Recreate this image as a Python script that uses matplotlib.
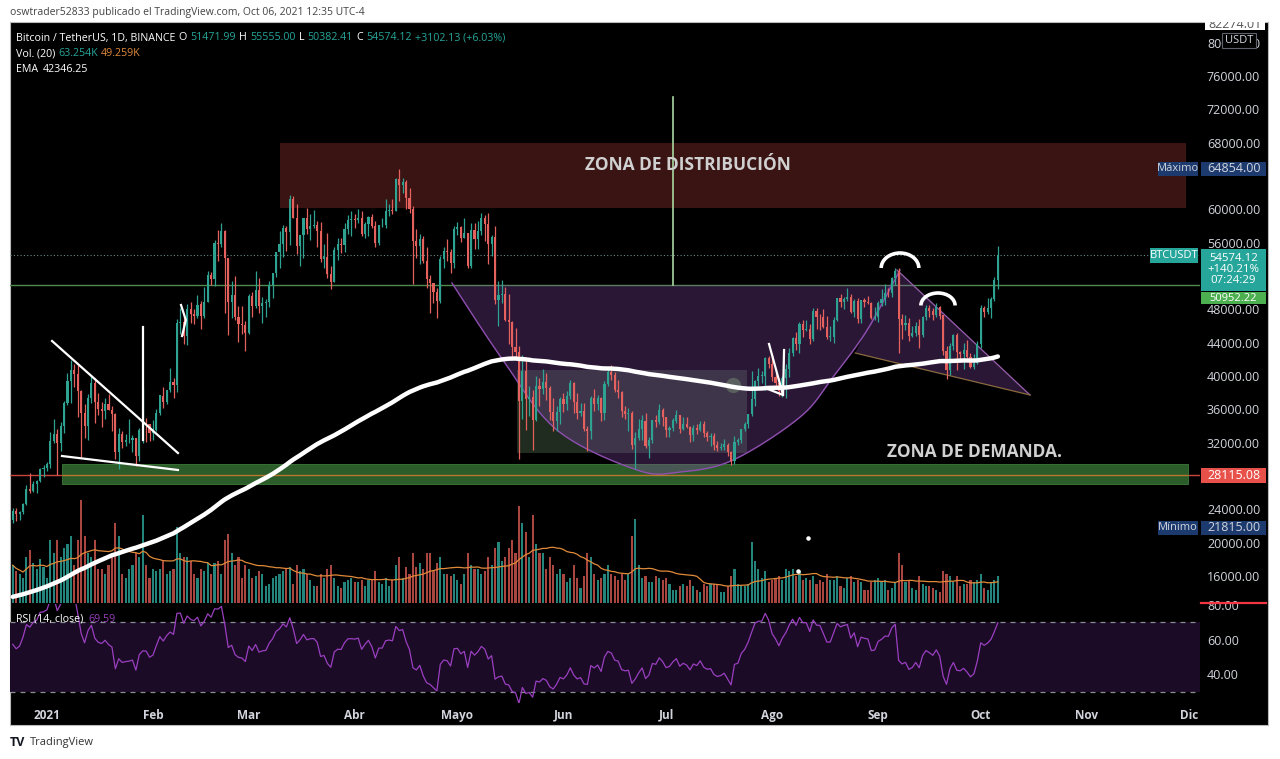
import numpy as np
import pandas as pd
import matplotlib
matplotlib.use('Agg')
import matplotlib.pyplot as plt
from matplotlib.patches import Rectangle, Polygon, Arc
from matplotlib.transforms import Bbox

plt.rcParams['font.family'] = ['Open Sans', 'DejaVu Sans']

# ---- data (BTCUSDT daily, Binance) ----
start_day = '2020-12-22'
first_open = 22720
closes = [
    23824, 23455, 23720, 24690, 26440, 26250, 27035, 27360, 28870, 28990,  # dic 2020
    29410, 32180, 33000, 31990, 33950, 36770, 39430, 40670, 40240, 38240,
    35540, 34010, 37370, 39150, 36830, 36030, 35820, 36630, 35890, 35470,
    30850, 33000, 32100, 32280, 32370, 32570, 30430, 33470, 34320, 34270, 33110,  # ene
    33520, 35510, 37660, 36930, 38290, 39250, 38900, 46400, 46530, 44850,
    48000, 47410, 47200, 48580, 47180, 48890, 52150, 51590, 55900, 55840,
    57410, 54200, 48890, 49680, 47070, 46280, 46110, 45140,  # feb
    49590, 48440, 50350, 48370, 48750, 48880, 50970, 52380, 54880, 55850,
    57810, 57230, 61190, 59000, 55600, 56900, 58910, 57650, 58030, 58100,
    57350, 54080, 54340, 52300, 51300, 55070, 55840, 55780, 57630, 58770, 58800,  # mar
    58730, 58970, 57060, 58200, 59130, 58040, 55950, 58080, 58090, 59780,
    59960, 59840, 63580, 62960, 63220, 61400, 60000, 56150, 55610, 56470,
    53800, 51700, 51190, 50100, 49060, 54030, 55030, 54860, 53560, 57700,  # abr
    57830, 56610, 57210, 53240, 57470, 56430, 57380, 58930, 58280, 55860,
    56700, 49150, 49720, 49880, 46760, 46430, 43540, 42900, 36970, 40600,
    37300, 37520, 34770, 38850, 38400, 39290, 38530, 35680, 34610, 35670, 37250,  # mayo
    36690, 37570, 39190, 36880, 35520, 35800, 33590, 33400, 37390, 36690,
    37340, 35550, 39020, 40520, 40140, 38350, 38090, 35820, 35480, 35600,
    31680, 32510, 33680, 34660, 31590, 32280, 34700, 34490, 35910, 35040,  # jun
    33570, 33800, 34660, 35290, 33690, 34220, 33860, 32880, 33810, 33520,
    34240, 33120, 32730, 32820, 31780, 31420, 31520, 31780, 30840, 29790,
    32140, 32290, 33640, 34260, 35400, 37270, 39460, 40000, 40020, 42220, 41460,  # jul
    39850, 39150, 38210, 39740, 40870, 42820, 44610, 43810, 46280, 45580,
    45590, 44430, 47830, 47100, 47040, 45930, 44690, 44710, 46760, 49340,
    48870, 49290, 49510, 47710, 48970, 46850, 49080, 48900, 48810, 46990, 47100,  # ago
    48810, 49250, 49940, 49920, 51760, 52660, 46860, 46070, 46370, 44840,
    45160, 46020, 44940, 47110, 48120, 47750, 47300, 48300, 47260, 43010,
    40690, 43580, 44880, 42840, 42700, 43160, 42230, 41030, 41520, 43820,  # sep
    48140, 47640, 48200, 49220, 51471.99, 54574.12,  # oct
]
highs = [
    24100, 24100, 23800, 24790, 26870, 28400, 27390, 27500, 29000, 29300,
    29680, 33300, 34780, 33600, 34500, 36940, 40360, 41950, 41380, 41350,
    38260, 36630, 37850, 40100, 39700, 37950, 36850, 37300, 37850, 36400,
    35600, 33800, 33450, 33070, 34880, 32950, 32600, 33780, 38530, 34900, 34290,
    34700, 35980, 37660, 38700, 38300, 40960, 39700, 46800, 48200, 47300,
    48680, 48880, 48050, 49700, 49000, 50660, 52600, 52500, 56300, 57500,
    58350, 57550, 54180, 51400, 52050, 48430, 48400, 46650,
    49790, 50100, 52640, 51770, 49470, 49200, 51450, 52400, 54900, 57390,
    58150, 58000, 61700, 61600, 60630, 56940, 58970, 60100, 59450, 59880,
    58600, 58420, 55840, 57200, 53230, 55450, 56600, 56560, 58400, 59370, 59800,
    59490, 60000, 59800, 58500, 59250, 59450, 58650, 58150, 58900, 61200,
    60650, 61200, 63770, 64854, 63800, 63520, 62500, 60400, 57600, 57000,
    56800, 55500, 52100, 51200, 50600, 54350, 55480, 56430, 55200, 57950,
    58450, 58000, 58980, 57200, 58350, 58380, 58650, 59500, 59300, 59600,
    56900, 58000, 51400, 51550, 50700, 49800, 46650, 45800, 43550, 42500,
    42250, 38850, 38300, 39950, 39800, 40850, 40400, 38850, 37300, 36400, 37500,
    37900, 38230, 39480, 39280, 37900, 36800, 36800, 34000, 37550, 38400,
    37680, 37450, 39400, 41000, 41300, 40500, 39550, 38200, 36450, 36150,
    35750, 33300, 34880, 35300, 35500, 32700, 34750, 35300, 36600, 36100,
    35050, 33950, 34950, 35950, 35300, 35100, 35050, 33950, 34100, 34250,
    34600, 34650, 33350, 33100, 33200, 32250, 31950, 32450, 31900, 31050,
    32850, 32600, 33650, 34500, 35400, 40550, 39550, 40900, 40650, 42300, 42400,
    42600, 40450, 39780, 39970, 41400, 43400, 44700, 45300, 46450, 46700,
    46750, 46200, 48100, 48150, 47400, 48000, 47150, 46000, 47100, 49380,
    49800, 49500, 50500, 49850, 49250, 49350, 49150, 49300, 49650, 48900, 48250,
    48950, 50400, 51000, 50550, 51900, 52920, 52950, 47380, 47350, 47000,
    45980, 46450, 46880, 47250, 48480, 48500, 48150, 48800, 48380, 47350,
    43650, 44000, 45000, 45100, 42950, 43950, 44350, 42800, 42600, 44150,
    48500, 48350, 49300, 49500, 51900, 55555,
]
lows = [
    22350, 22650, 22700, 23400, 24500, 25900, 26100, 25900, 27320, 27850,
    28630, 29000, 32000, 28130, 31000, 33200, 36550, 36800, 38700, 35100,
    30260, 32530, 32300, 36700, 34400, 35350, 33860, 34800, 35880, 33400,
    30070, 28850, 31400, 31650, 31900, 30830, 29240, 29800, 31900, 32050, 32200,
    32300, 33400, 35360, 36200, 36600, 38100, 37350, 38100, 45000, 43800,
    43700, 46400, 46200, 47000, 45600, 47000, 48900, 50900, 50800, 53800,
    55500, 47600, 44900, 47000, 46700, 44100, 45000, 43000,
    45000, 47100, 48100, 47500, 46300, 47100, 48280, 49300, 51900, 53000,
    54270, 55050, 55700, 58970, 54600, 53210, 54120, 57000, 56300, 57800,
    55450, 53650, 53000, 51700, 50400, 51250, 53950, 54700, 54900, 57000, 56850,
    57700, 58400, 56850, 56500, 56850, 57800, 55500, 55700, 57850, 57700,
    59200, 59400, 59800, 61000, 62000, 60000, 59600, 51000, 54200, 53400,
    53600, 50500, 47500, 48800, 47000, 48800, 53000, 53800, 52400, 53000,
    56950, 56050, 56500, 53000, 52900, 55200, 55250, 56900, 56200, 53400,
    54400, 48600, 46000, 48800, 46550, 43800, 42000, 42200, 30000, 34800,
    33500, 35200, 31100, 34550, 36400, 37800, 37150, 34700, 33400, 33400, 34200,
    35700, 35900, 37180, 35600, 34800, 35250, 33350, 31000, 32400, 35800,
    35950, 34600, 34750, 38750, 39500, 38100, 37400, 35130, 34800, 33350,
    31250, 28800, 32300, 32300, 31300, 30150, 32000, 33900, 34250, 34000,
    32700, 32700, 33350, 34300, 33150, 33550, 33750, 32100, 32200, 33000,
    33350, 32700, 32200, 31600, 31150, 31050, 31150, 31100, 30400, 29280,
    29480, 31700, 32000, 33400, 33800, 35200, 36400, 38800, 39200, 38300, 41000,
    39400, 38700, 37600, 37500, 37300, 39850, 42450, 43100, 42800, 44700,
    45350, 43800, 44250, 45600, 45500, 45700, 44400, 44200, 43950, 46600,
    48300, 48000, 49000, 47600, 47100, 46300, 46350, 48300, 48600, 46850, 46700,
    46500, 48350, 48550, 49450, 49500, 50950, 42800, 44400, 45500, 44200,
    44700, 44750, 43400, 44700, 46700, 47050, 46750, 47050, 46850, 42500,
    39600, 40100, 43100, 40700, 41650, 40800, 42100, 40900, 40800, 41400,
    43300, 47050, 47450, 46900, 49050, 50382.41,
]
volumes_k = [
    90, 75, 70, 60, 110, 125, 95, 80, 105, 85,
    60, 150, 120, 150, 110, 130, 140, 160, 90, 150, 245, 160, 120, 110, 150, 80,
    80, 70, 90, 120, 190, 160, 70, 60, 80, 90, 120, 110, 210, 90, 60,
    80, 75, 80, 100, 70, 75, 80, 180, 120, 110, 110, 100, 70, 60, 80, 75, 95, 70,
    95, 100, 70, 150, 165, 120, 90, 110, 60, 90,
    80, 60, 65, 75, 70, 40, 45, 60, 65, 70, 75, 80, 85, 45, 90, 75, 80, 70, 55,
    40, 40, 70, 60, 80, 90, 60, 40, 35, 50, 55, 60,
    50, 50, 55, 40, 55, 55, 75, 50, 45, 60, 40, 55, 90, 110, 60, 85, 70, 120, 85,
    95, 80, 120, 120, 75, 95, 110, 70, 70, 65, 70,
    55, 45, 70, 120, 90, 80, 80, 70, 75, 110, 90, 130, 145, 100, 110, 130, 150,
    120, 230, 190, 170, 110, 210, 140, 120, 120, 80, 110, 90, 70, 80,
    70, 50, 60, 90, 60, 35, 65, 120, 110, 70, 55, 60, 70, 90, 70, 65, 55, 70, 55,
    70, 160, 200, 90, 60, 65, 50, 50, 65, 60, 55,
    60, 45, 30, 30, 40, 45, 40, 55, 40, 30, 25, 45, 40, 45, 45, 45, 25, 25, 40,
    65, 80, 45, 40, 40, 45, 146, 100, 80, 60, 75, 50,
    55, 60, 65, 55, 80, 75, 80, 65, 75, 55, 60, 55, 65, 45, 55, 50, 70, 55, 55,
    65, 40, 35, 60, 65, 50, 55, 50, 30, 30, 50, 55,
    60, 50, 55, 30, 35, 50, 120, 90, 50, 55, 35, 30, 65, 45, 40, 40, 35, 30, 25,
    75, 70, 65, 50, 65, 40, 45, 45, 55, 50, 55,
    68, 35, 30, 50, 55, 63.254,
]
warmup_closes = [18780, 18320, 18560, 18260, 18830, 19170, 19280,
                 19440, 21380, 22850, 23120, 23850, 23480, 22720]
ema_seed = 13500
ema_len = 200

month_labels = ['2021', 'Feb', 'Mar', 'Abr', 'Mayo', 'Jun', 'Jul', 'Ago', 'Sep', 'Oct', 'Nov', 'Dic']
# 28000, 52000 and 64000 sit under the price tags on the right axis
price_ticks = [16000, 20000, 24000, 32000, 36000, 40000, 44000, 48000,
               56000, 60000, 68000, 72000, 76000, 80000]
rsi_ticks = [40, 60, 80]

support_level = 28115.08
resistance_level = 50952.22
max_price = 64854.00
min_price = 21815.00
change_pct = 140.21
countdown = '07:24:29'
vol_ma_label = '49.259K'
ema_label = '42346.25'
rsi_label = '69.59'
top_label = '82274.01'

# drawings (day offset from 1 Jan 2021, price)
dist_zone = (68, 333, 60160, 67960)
demand_zone = (4.4, 333.6, 27040, 29440)
wedge_top = [(1.5, 44200), (38.3, 30760)]
wedge_bottom = [(4.4, 30400), (38.3, 28720)]
flag_pole = [(28.1, 45880), (28.1, 32320)]
break_mark = [(39.2, 48520), (40.6, 46720), (39.5, 44800)]
aug_mark = [(211.1, 43840), (215.2, 37720), (210.0, 38560)]
aug_pole = [(215.5, 43120), (215.2, 37720)]
target_line = [(183, 73480), (183, 50920)]
cup_pts = [(118.4, 51160), (133.3, 41920), (149.1, 33520), (172.5, 28720), (185.1, 28480),
           (200.6, 29920), (220.2, 35080), (229.8, 39880), (239.8, 45520), (249.4, 52720)]
range_box = (137.4, 204.7, 30760, 40720)
triangle = [(248.5, 52720), (236.3, 42760), (287.4, 37720)]
caps = [(249.4, 52960, 11, 3600), (260.5, 48460, 10, 3000)]

# ---- derived series ----
dates = pd.date_range(start_day, periods=len(closes), freq='D')
day = (dates - pd.Timestamp('2021-01-01')).days.values.astype(float)
c = np.array(closes, float)
o = np.concatenate([[first_open], c[:-1]])
h = np.maximum(np.array(highs, float), np.maximum(o, c))
l = np.minimum(np.array(lows, float), np.minimum(o, c))
up = c >= o
vol = np.array(volumes_k, float)
vol_ma = pd.Series(vol).rolling(20, min_periods=1).mean().values

ema = [ema_seed]
for px in c[1:]:
    ema.append(ema[-1] + 2 / (ema_len + 1) * (px - ema[-1]))

allc = pd.Series(warmup_closes + list(closes), dtype=float)
d = allc.diff()
gain = d.clip(lower=0).ewm(alpha=1 / 14, adjust=False).mean()
loss = (-d.clip(upper=0)).ewm(alpha=1 / 14, adjust=False).mean()
rsi = (100 - 100 / (1 + gain / loss)).values[-len(closes):]

months = pd.date_range('2021-01-01', '2021-12-01', freq='MS')
month_days = (months - pd.Timestamp('2021-01-01')).days.values


def catmull(pts, n=24):
    p = np.array(pts, float)
    p = np.vstack([p[0], p, p[-1]])
    out = []
    t = np.linspace(0, 1, n, endpoint=False)[:, None]
    for i in range(1, len(p) - 2):
        p0, p1, p2, p3 = p[i - 1], p[i], p[i + 1], p[i + 2]
        out.append(0.5 * (2 * p1 + (-p0 + p2) * t + (2 * p0 - 5 * p1 + 4 * p2 - p3) * t ** 2
                          + (-p0 + 3 * p1 - 3 * p2 + p3) * t ** 3))
    out.append(p[-2][None])
    return np.vstack(out)


# ---- figure ----
W, H = 1280, 759
fig = plt.figure(figsize=(W / 100, H / 100), dpi=100)
fig.patch.set_facecolor('white')


def fx(px):
    return px / W


def fy(py):
    return 1 - py / H


fig.add_artist(Rectangle((fx(10), fy(725)), fx(1268) - fx(10), fy(22) - fy(725),
                         transform=fig.transFigure, fc='black', ec='#bbbbbb', lw=0.8, zorder=-5))

rect_price = [fx(10), fy(603), fx(1200) - fx(10), fy(22) - fy(603)]
ax_v = fig.add_axes(rect_price, zorder=0)
ax = fig.add_axes(rect_price, zorder=1)
ax_r = fig.add_axes([fx(10), fy(703), fx(1200) - fx(10), fy(604) - fy(703)], zorder=1)

xlim = (-10.8, 337.1)
for a in (ax, ax_v, ax_r):
    a.set_facecolor('none')
    a.set_xlim(*xlim)
    for s in a.spines.values():
        s.set_visible(False)

UP, DN = '#2fa392', '#e4615d'
cols = np.where(up, UP, DN)

# volume
ax_v.set_ylim(0, 1383)
ax_v.bar(day, vol, width=0.62, color=np.where(up, '#23857b', '#a8463f'))
ax_v.plot(day, vol_ma, color='#e08a3a', lw=0.9)
ax_v.set_axis_off()

# price panel
ax.set_ylim(12760, 82480)
ax.yaxis.tick_right()
ax.set_yticks(price_ticks)
ax.set_yticklabels([f'{t:.2f}' for t in price_ticks])
ax.tick_params(axis='y', length=0, pad=5, labelsize=9, labelcolor='#d1d4dc')
ax.tick_params(axis='x', length=0, labelbottom=False)

x0, x1, y0, y1 = dist_zone
ax.add_patch(Rectangle((x0, y0), x1 - x0, y1 - y0, fc='#3a1313', ec='none', zorder=1))
ax.text((x0 + x1) / 2 - 13, 65320, 'ZONA DE DISTRIBUCIÓN', color='#d0d0d0', fontsize=12.5,
        fontweight='bold', ha='center', va='center', zorder=7)

ax.hlines(support_level, xlim[0], xlim[1], color='#c9453c', lw=1, zorder=1)
x0, x1, y0, y1 = demand_zone
ax.add_patch(Rectangle((x0, y0), x1 - x0, y1 - y0, fc='#2d5c2b', ec='#3c7a38', lw=0.6, zorder=2))
ax.hlines(support_level, x0, x1, color='#b9782f', lw=1, zorder=2.5)
ax.text(271.3, 30900, 'ZONA DE DEMANDA.', color='#d0d0d0', fontsize=12.5,
        fontweight='bold', ha='center', va='center', zorder=7)

ax.axhline(resistance_level, color='#4f8a4f', lw=1, zorder=2)
ax.axhline(c[-1], color='#6a8a8a', lw=0.8, ls=(0, (1, 2)), zorder=2)

# cup & range box
x0, x1, y0, y1 = range_box
ax.add_patch(Rectangle((x0, y0), x1 - x0, y1 - y0, fc=(0.35, 0.5, 0.35), alpha=0.35, ec='none', zorder=1.5))
cup = catmull(cup_pts)
ax.fill_between(cup[:, 0], cup[:, 1], resistance_level, where=cup[:, 1] < resistance_level,
                interpolate=True, color=(0.55, 0.3, 0.7), alpha=0.3, lw=0, zorder=2)
ax.plot(cup[:, 0], cup[:, 1], color='#8e4fb0', lw=1, zorder=2.2)
ax.scatter([200.6], [38920], s=120, color='#6b7d6b', alpha=0.6, zorder=2.3, lw=0)

ax.add_patch(Polygon(triangle, closed=True, fc=(0.55, 0.3, 0.7), alpha=0.3, ec='none', zorder=2))
ax.plot([triangle[0][0], triangle[2][0]], [triangle[0][1], triangle[2][1]], color='#9a5fae', lw=0.9, zorder=2.2)
ax.plot([triangle[1][0], triangle[2][0]], [triangle[1][1], triangle[2][1]], color='#8a6a3e', lw=0.9, zorder=2.2)

# candles
ax.vlines(day, l, h, color=cols, lw=0.9, zorder=4)
ax.bar(day, np.maximum(np.abs(c - o), 80), bottom=np.minimum(o, c), width=0.62, color=cols, zorder=5)

# EMA
ax.plot(day, ema, color='white', lw=3.2, zorder=6, solid_capstyle='round')

# white drawings
for seg in (wedge_top, wedge_bottom, flag_pole, break_mark, aug_mark, aug_pole):
    xs, ys = zip(*seg)
    ax.plot(xs, ys, color='white', lw=1.6, zorder=6.5)
xs, ys = zip(*target_line)
ax.plot(xs, ys, color='#a8d8a0', lw=1.2, zorder=6.5)
for cx, cy, w, hh in caps:
    ax.add_patch(Arc((cx, cy), w, hh, theta1=20, theta2=160, color='white', lw=2.6, zorder=6.5))
ax.scatter([222.5, 219.6], [20560, 16600], s=5, color='white', zorder=6.5)

# RSI panel
ax_r.set_ylim(23.7, 80.3)
ax_r.axhspan(30, 70, color='#1b0b26', lw=0, zorder=0)
ax_r.axhline(70, color='#8a8d96', lw=0.9, ls=(0, (4, 4)), zorder=1)
ax_r.axhline(30, color='#8a8d96', lw=0.9, ls=(0, (4, 4)), zorder=1)
ax_r.plot(day, rsi, color='#9a3fc0', lw=0.9, zorder=2)
ax_r.yaxis.tick_right()
ax_r.set_yticks(rsi_ticks)
ax_r.set_yticklabels([f'{t:.2f}' for t in rsi_ticks])
ax_r.tick_params(axis='y', length=0, pad=5, labelsize=9, labelcolor='#d1d4dc')
ax_r.set_xticks(month_days)
ax_r.set_xticklabels(month_labels, fontweight='bold')
ax_r.tick_params(axis='x', length=0, pad=4, labelsize=8.5, labelcolor='#d1d4dc')

# ---- overlay labels ----
fig.canvas.draw()
r = fig.canvas.get_renderer()


def py_of(price):
    return H - ax.transData.transform((0, price))[1]


def tag(x0, x1, yc, hgt, fc, txt, tc='white', fs=8.5, weight='normal'):
    fig.add_artist(Rectangle((fx(x0), fy(yc + hgt / 2)), fx(x1) - fx(x0), hgt / H,
                             transform=fig.transFigure, fc=fc, ec='none', zorder=5))
    fig.text(fx((x0 + x1) / 2), fy(yc), txt, color=tc, fontsize=fs, fontweight=weight,
             ha='center', va='center', zorder=6)


def chain(x, y, parts, fs, gap=3):
    for txt, col in parts:
        t = fig.text(fx(x), fy(y), txt, color=col, fontsize=fs, ha='left', va='center', zorder=6)
        x += t.get_window_extent(renderer=r).width + gap


yc = py_of(max_price)
tag(1158, 1198, yc, 14, '#1c3a6e', 'Máximo', '#d1d4dc', 8)
tag(1201, 1266, yc, 14, '#1c3a6e', f'{max_price:.2f}', '#d1d4dc', 9)
yc = py_of(min_price)
tag(1158, 1198, yc, 14, '#1c3a6e', 'Mínimo', '#d1d4dc', 8)
tag(1201, 1266, yc, 14, '#1c3a6e', f'{min_price:.2f}', '#d1d4dc', 9)
yc = py_of(support_level)
tag(1201, 1266, yc, 15, '#e8504a', f'{support_level:.2f}', 'white', 9)
yc = py_of(c[-1])
tag(1150, 1198, yc + 1, 15, '#26a69a', 'BTCUSDT', 'white', 8)
fig.add_artist(Rectangle((fx(1201), fy(yc + 36)), fx(1266) - fx(1201), 42 / H,
                         transform=fig.transFigure, fc='#26a69a', ec='none', zorder=5))
fig.text(fx(1233.5), fy(yc + 15), f'{c[-1]:.2f}\n+{change_pct:.2f}%\n{countdown}', color='white',
         fontsize=8.2, linespacing=1.0, ha='center', va='center', zorder=6)
tag(1201, 1266, yc + 43.5, 12, '#4caf50', f'{resistance_level:.2f}', 'white', 8)

fig.add_artist(Rectangle((fx(1222), fy(48)), fx(1256) - fx(1222), 15 / H,
                         transform=fig.transFigure, fc='black', ec='#5d606b', lw=0.8, zorder=5))
fig.text(fx(1239), fy(40.5), 'USDT', color='#d1d4dc', fontsize=8, ha='center', va='center', zorder=6)
fig.add_artist(Rectangle((fx(1205), fy(30)), fx(1265) - fx(1205), 10 / H,
                         transform=fig.transFigure, fc='white', ec='none', zorder=5))
t = fig.text(fx(1235), fy(25), top_label, color='#555555', fontsize=9, ha='center', va='center', zorder=6)
t.set_clip_on(True)
t.set_clip_box(Bbox([[1205, H - 30], [1265, H - 22]]))

fig.add_artist(plt.Line2D([fx(1201), fx(1266)], [fy(603), fy(603)], transform=fig.transFigure,
                          color='#f23645', lw=1.6, zorder=5))

# header texts
fig.text(fx(10), fy(12), 'oswtrader52833 publicado el TradingView.com, Oct 06, 2021 12:35 UTC-4',
         color='#444444', fontsize=7.5, ha='left', va='center')
TEAL = '#26a69a'
chain(16, 38, [('Bitcoin / TetherUS, 1D, BINANCE', 'white'), ('O', 'white'), (f'{o[-1]:.2f}', TEAL),
               ('H', 'white'), (f'{highs[-1]:.2f}', TEAL), ('L', 'white'), (f'{lows[-1]:.2f}', TEAL),
               ('C', 'white'), (f'{c[-1]:.2f}', TEAL),
               (f'+{c[-1] - o[-1]:.2f} (+{(c[-1] / o[-1] - 1) * 100:.2f}%)', TEAL)], 7.7, gap=3.3)
chain(16, 54, [('Vol. (20)', 'white'), (f'{vol[-1]:.3f}K', TEAL), (vol_ma_label, '#e08a3a')], 7.7)
chain(16, 70, [('EMA', 'white'), (ema_label, 'white')], 7.7, gap=5)
chain(16, 619, [('RSI (14, close)', 'white'), (rsi_label, '#9a3fc0')], 7.7, gap=5)

fig.text(fx(10), fy(743), 'TV', color='#131722', fontsize=9, fontweight='bold', ha='left', va='center')
fig.text(fx(30), fy(743), 'TradingView', color='#333333', fontsize=8, ha='left', va='center')

fig.savefig('out.png', dpi=100, facecolor='white')
